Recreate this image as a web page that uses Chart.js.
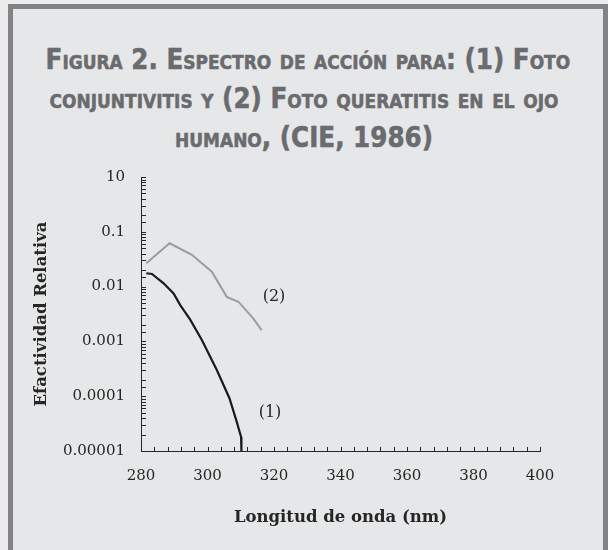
<!DOCTYPE html>
<html>
<head>
<meta charset="utf-8">
<script src="https://cdn.jsdelivr.net/npm/chart.js@4"></script>
<style>
  html, body { margin: 0; padding: 0; }
  body { width: 608px; height: 550px; background: #ececed; position: relative; overflow: hidden; }
  .marco {
    position: absolute; left: 8px; top: 4px; width: 590px; height: 542px;
    background: #e6e7e8; border: 5px solid #808285; border-bottom: 2px solid #b4b5b7;
  }
  .titulo {
    position: absolute; left: 0; top: 40px; width: 608px; text-align: center; white-space: nowrap;
    font-family: "DejaVu Sans", sans-serif; font-weight: bold; font-variant: small-caps;
    font-size: 29px; line-height: 39px; color: #6a6b6e;
    -webkit-text-stroke: 0.6px #6a6b6e;
    transform: scaleX(0.85); transform-origin: 304px 0;
  }
  #grafica { position: absolute; left: 0; top: 0; }
</style>
</head>
<body>
<div class="marco"></div>
<div class="titulo">Figura 2. Espectro de acción para: (1) Foto<br>conjuntivitis y (2) Foto queratitis en el ojo<br>humano, (CIE, 1986)</div>
<canvas id="grafica" width="608" height="550"></canvas>
<script>
// Datos
const longitud1 = [281.6, 283.3, 286.8, 289.8, 291.8, 294.8, 298.3, 302.8, 306.6, 308.8, 310.1, 310.2];
const conjuntivitis = [0.0175, 0.017, 0.0115, 0.0075, 0.0046, 0.0025, 0.00106, 0.0003, 0.000092, 0.000034, 0.000018, 0.00001];
const longitud2 = [281.6, 288.6, 295.3, 301.3, 305.8, 309.3, 313.8, 316.3];
const queratitis = [0.0266, 0.0617, 0.038, 0.0187, 0.0065, 0.0053, 0.0026, 0.0016];

const decadas = [0.00001, 0.0001, 0.001, 0.01, 0.1, 1];
const etiquetasY = ['0.00001', '0.0001', '0.001', '0.01', '0.1', '10'];
const etiquetasX = [280, 300, 320, 340, 360, 380, 400];

// Rotulos de las curvas (en unidades de datos)
const rotulos = [
  { texto: '(2)', x: 320, y: 0.0066 },
  { texto: '(1)', x: 318.8, y: 0.000049 }
];

const fuenteSerif = '"DejaVu Serif", serif';

function puntos(xs, ys) {
  return xs.map((x, i) => ({ x: x, y: ys[i] }));
}

// Marcas hacia adentro y rotulos (1), (2)
const marcasAdentro = {
  id: 'marcasAdentro',
  afterDatasetsDraw(chart) {
    const ctx = chart.ctx;
    const sx = chart.scales.x;
    const sy = chart.scales.y;
    ctx.save();
    ctx.strokeStyle = '#262626';
    ctx.lineWidth = 1;
    sx.ticks.forEach(t => {
      const px = Math.round(sx.getPixelForValue(t.value)) + 0.5;
      ctx.beginPath();
      ctx.moveTo(px, sy.bottom);
      ctx.lineTo(px, sy.bottom - 4);
      ctx.stroke();
    });
    sy.ticks.forEach(t => {
      const py = Math.round(sy.getPixelForValue(t.value)) + 0.5;
      ctx.beginPath();
      ctx.moveTo(sx.left, py);
      ctx.lineTo(sx.left + 5, py);
      ctx.stroke();
    });
    ctx.fillStyle = '#262626';
    ctx.font = '16px ' + fuenteSerif;
    ctx.textAlign = 'center';
    ctx.textBaseline = 'middle';
    rotulos.forEach(r => {
      ctx.fillText(r.texto, sx.getPixelForValue(r.x), sy.getPixelForValue(r.y));
    });
    ctx.restore();
  }
};

document.addEventListener('DOMContentLoaded', () => {
  const lienzo = document.getElementById('grafica');

  new Chart(lienzo, {
    type: 'line',
    data: {
      datasets: [
        {
          label: '(1) Foto conjuntivitis',
          data: puntos(longitud1, conjuntivitis),
          borderColor: '#1a1a1a',
          borderWidth: 2.2,
          pointRadius: 0,
          tension: 0
        },
        {
          label: '(2) Foto queratitis',
          data: puntos(longitud2, queratitis),
          borderColor: '#9b9c9e',
          borderWidth: 2,
          pointRadius: 0,
          tension: 0
        }
      ]
    },
    options: {
      responsive: false,
      animation: false,
      layout: { padding: { left: 0, top: 177, right: 68, bottom: 0 } },
      plugins: {
        legend: { display: false },
        tooltip: { enabled: false }
      },
      scales: {
        x: {
          type: 'linear',
          min: 280,
          max: 400,
          border: { display: true, color: '#262626', width: 1 },
          grid: { display: false, drawTicks: false },
          ticks: {
            stepSize: 4,
            autoSkip: false,
            maxRotation: 0,
            padding: 16,
            color: '#262626',
            font: { family: fuenteSerif, size: 15 },
            callback: v => etiquetasX.includes(v) ? String(v) : ''
          },
          title: {
            display: true,
            text: 'Longitud de onda (nm)',
            color: '#262626',
            font: { family: fuenteSerif, size: 16.5, weight: 'bold' },
            padding: { top: 0, bottom: 22 }
          },
          afterFit(scale) { scale.height = 99; }
        },
        y: {
          type: 'logarithmic',
          min: 0.00001,
          max: 1,
          border: { display: true, color: '#262626', width: 1 },
          grid: { display: false, drawTicks: false },
          ticks: {
            autoSkip: false,
            padding: 16,
            color: '#262626',
            font: { family: fuenteSerif, size: 15 },
            callback: v => {
              const i = decadas.findIndex(d => Math.abs(d - v) / d < 1e-6);
              return i >= 0 ? etiquetasY[i] : '';
            }
          },
          title: {
            display: true,
            text: 'Efactividad Relativa',
            color: '#262626',
            font: { family: fuenteSerif, size: 16.5, weight: 'bold' },
            padding: { top: 32, bottom: 0 }
          },
          afterFit(scale) { scale.width = 141; }
        }
      }
    },
    plugins: [marcasAdentro]
  });
});
</script>
</body>
</html>
